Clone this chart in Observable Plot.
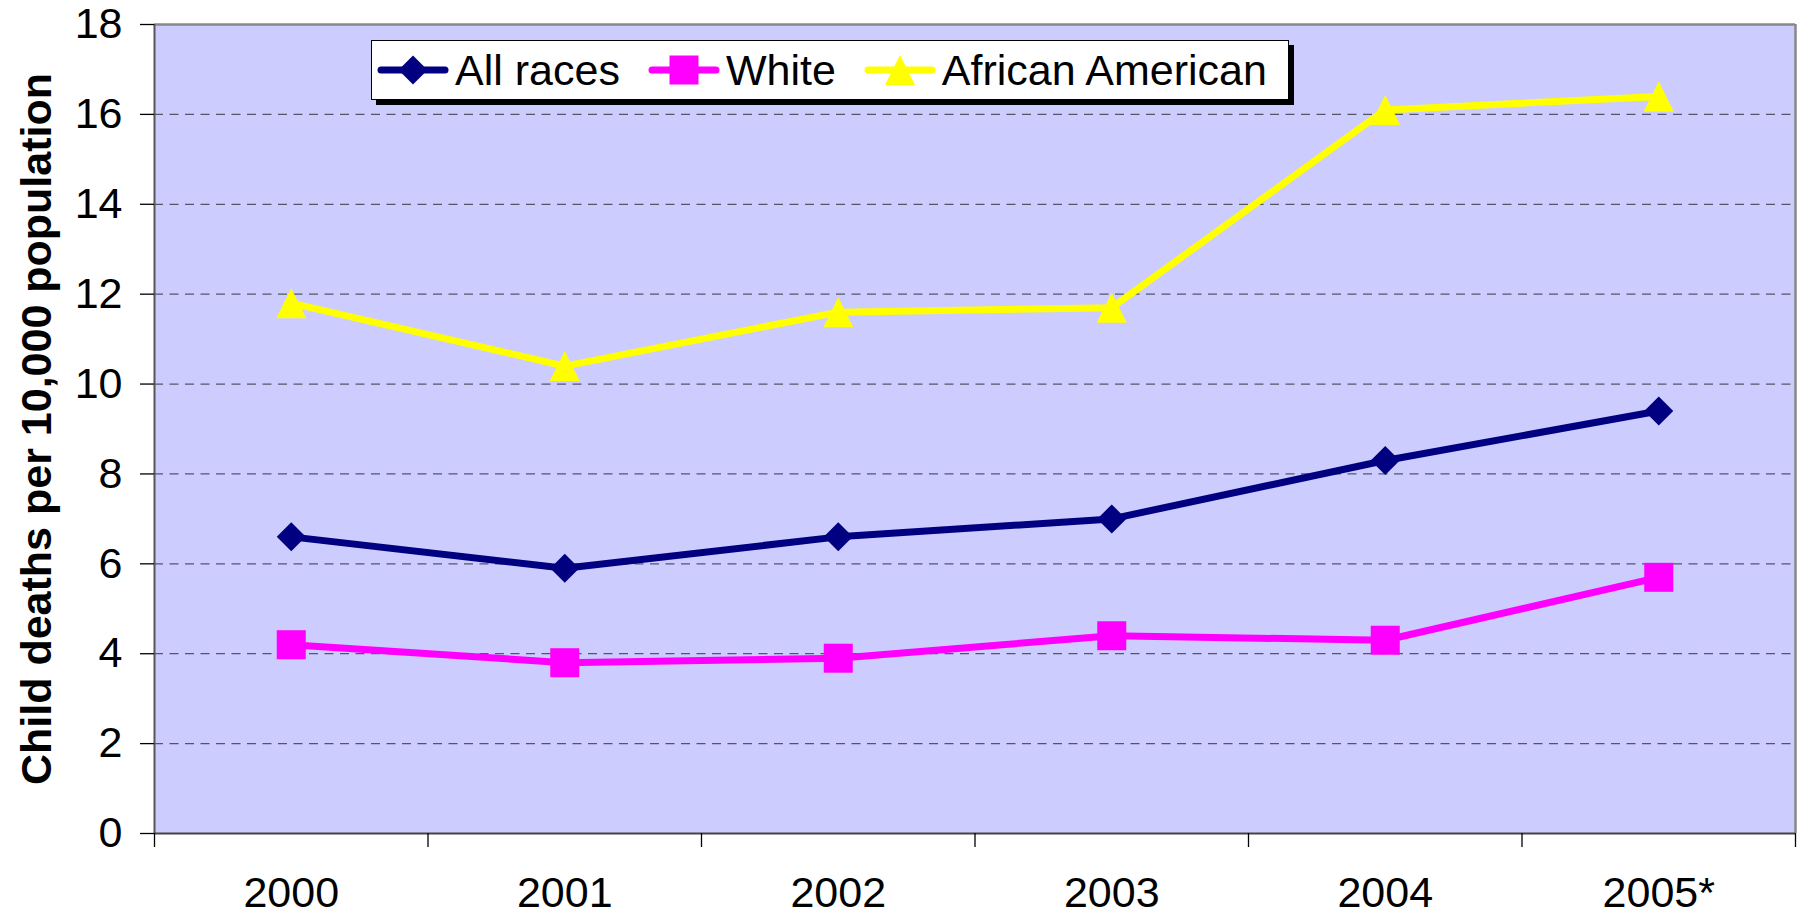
<!DOCTYPE html>
<html>
<head>
<meta charset="utf-8">
<script src="https://cdn.jsdelivr.net/npm/d3@7"></script>
<script src="https://cdn.jsdelivr.net/npm/@observablehq/plot@0.6"></script>
<style>
  html, body { margin: 0; padding: 0; background: #ffffff; }
  #wrap { position: relative; width: 1805px; height: 917px; font-family: "Liberation Sans", Arial, sans-serif; }
  #chart { position: absolute; left: 0; top: 0; }
  #legend {
    position: absolute; left: 371px; top: 40px; width: 918px; height: 60px;
    background: #ffffff; border: 1.5px solid #000; box-shadow: 5px 5px 0 #000;
    display: flex; align-items: center; padding-left: 5px; box-sizing: border-box;
    white-space: nowrap;
  }
  .item { display: flex; align-items: center; margin-right: 28px; flex-shrink: 0; }
  .item svg { display: block; margin-right: 6px; flex-shrink: 0; }
  .item span { font-size: 43px; line-height: 1; color: #000; white-space: nowrap; }
</style>
</head>
<body>
<div id="wrap">
  <div id="chart"></div>
  <div id="legend"></div>
</div>
<script>
// ---- data ----
const categories = ["2000", "2001", "2002", "2003", "2004", "2005*"];
const allRaces = [6.6, 5.9, 6.6, 7.0, 8.3, 9.4];
const white = [4.2, 3.8, 3.9, 4.4, 4.3, 5.7];
const africanAmerican = [11.8, 10.4, 11.6, 11.7, 16.1, 16.4];
const seriesNames = ["All races", "White", "African American"];
const seriesColors = ["#000080", "#FF00FF", "#FFFF00"];
const yTicks = [0, 2, 4, 6, 8, 10, 12, 14, 16, 18];
const yTitle = "Child deaths per 10,000 population";

// ---- symbols ----
const diamondSym = {draw(ctx, size) { const r = Math.sqrt(size / Math.PI); ctx.moveTo(0, -r); ctx.lineTo(r, 0); ctx.lineTo(0, r); ctx.lineTo(-r, 0); ctx.closePath(); }};
const squareSym = {draw(ctx, size) { const r = Math.sqrt(size / Math.PI); ctx.moveTo(-r, -r); ctx.lineTo(r, -r); ctx.lineTo(r, r); ctx.lineTo(-r, r); ctx.closePath(); }};
const triangleSym = {draw(ctx, size) { const r = Math.sqrt(size / Math.PI); ctx.moveTo(0, -r); ctx.lineTo(r, r); ctx.lineTo(-r, r); ctx.closePath(); }};
const seriesSymbols = [diamondSym, squareSym, triangleSym];
const seriesR = [14.5, 14.5, 15];
const seriesValues = [allRaces, white, africanAmerican];

const data = seriesNames.flatMap((name, s) =>
  seriesValues[s].map((v, i) => ({series: name, i, value: v})));

const idx = categories.map((_, i) => i);
const bounds = d3.range(categories.length + 1).map(i => i - 0.5);

const lineMarks = seriesNames.map((name, s) =>
  Plot.line(data.filter(d => d.series === name), {x: "i", y: "value", stroke: seriesColors[s], strokeWidth: 7, strokeLinejoin: "round"}));
const dotMarks = seriesNames.map((name, s) =>
  Plot.dot(data.filter(d => d.series === name), {x: "i", y: "value", symbol: seriesSymbols[s], r: seriesR[s], fill: seriesColors[s], stroke: "none"}));

const chart = Plot.plot({
  width: 1805,
  height: 917,
  marginLeft: 154,
  marginRight: 10,
  marginTop: 24,
  marginBottom: 84,
  style: {fontFamily: "'Liberation Sans', Arial, sans-serif", fontSize: "43px", background: "#ffffff", color: "#000"},
  x: {domain: [bounds[0], bounds[bounds.length - 1]], label: null},
  y: {domain: [0, 18], label: null},
  marks: [
    Plot.frame({fill: "#CCCCFF", stroke: "none"}),
    Plot.ruleY(yTicks.filter(t => t > 0 && t < 18), {stroke: "#555566", strokeWidth: 1.3, strokeDasharray: "9,6.5"}),
    Plot.ruleY([18], {stroke: "#888888", strokeWidth: 2.5}),
    Plot.ruleX([bounds[bounds.length - 1]], {stroke: "#888888", strokeWidth: 2.5}),
    Plot.ruleX([bounds[0]], {stroke: "#555555", strokeWidth: 2}),
    Plot.ruleY([0], {stroke: "#444444", strokeWidth: 2}),
    Plot.axisY({ticks: yTicks, tickSize: 14, tickPadding: 18, fontSize: 43, color: "#000", strokeWidth: 1.3, label: null}),
    Plot.axisX({ticks: bounds, tickSize: 14, tickFormat: () => "", color: "#000", strokeWidth: 1.3, label: null}),
    Plot.axisX({ticks: idx, tickSize: 0, tickPadding: 43, tickFormat: i => categories[i], fontSize: 43, color: "#000", label: null}),
    Plot.text([yTitle], {frameAnchor: "left", rotate: -90, textAnchor: "middle", lineAnchor: "bottom", dx: -104, fontSize: 43, fontWeight: "bold", fill: "#000"}),
    ...lineMarks,
    ...dotMarks
  ]
});
document.getElementById("chart").appendChild(chart);

// ---- legend ----
const legend = d3.select("#legend");
seriesNames.forEach((name, s) => {
  const item = legend.append("div").attr("class", "item");
  const svg = item.append("svg").attr("width", 72).attr("height", 40);
  svg.append("line").attr("x1", 4).attr("x2", 68).attr("y1", 20).attr("y2", 20)
    .attr("stroke", seriesColors[s]).attr("stroke-width", 7).attr("stroke-linecap", "round");
  const p = d3.path();
  seriesSymbols[s].draw(p, Math.PI * seriesR[s] * seriesR[s]);
  svg.append("path").attr("transform", "translate(36,20)").attr("d", p.toString()).attr("fill", seriesColors[s]);
  item.append("span").text(name);
});
</script>
</body>
</html>
